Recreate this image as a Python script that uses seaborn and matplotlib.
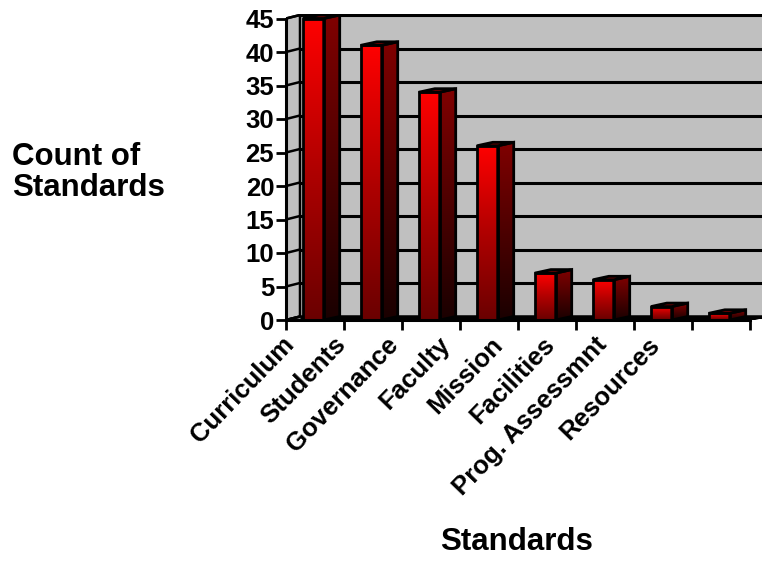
import numpy as np
import pandas as pd
import matplotlib
matplotlib.use("Agg")
import matplotlib.pyplot as plt
import seaborn as sns
from matplotlib.patches import Polygon
from matplotlib.colors import LinearSegmentedColormap

# ---- data ----
categories = ["Curriculum", "Students", "Governance", "Faculty", "Mission",
              "Facilities", "Prog. Assessmnt", "Resources"]
counts = [45, 41, 34, 26, 7, 6, 2, 1]
y_ticks = [0, 5, 10, 15, 20, 25, 30, 35, 40, 45]
y_title_lines = ["Count of", "Standards"]
x_title = "Standards"

sns.set_theme(style="white")
plt.rcParams['font.family'] = ['Liberation Sans', 'DejaVu Sans']
plt.rcParams['font.weight'] = 'bold'
plt.rcParams['text.color'] = 'black'
plt.rcParams['xtick.color'] = 'black'
plt.rcParams['ytick.color'] = 'black'
plt.rcParams['axes.labelcolor'] = 'black'

W, H = 762, 563
fig = plt.figure(figsize=(W / 100, H / 100), dpi=100)

# axes geometry in pixels
ax_left, ax_bottom_px, ax_top_px = 286, 320, 14
px_per_cat = 58.0
px_per_unit = 6.70
ax = fig.add_axes([ax_left / W, (H - ax_bottom_px) / H, (W - ax_left) / W,
                   (ax_bottom_px - ax_top_px) / H])
xmin = -0.5
xmax = -0.5 + (W - ax_left) / px_per_cat
ymax_axes = (ax_bottom_px - ax_top_px) / px_per_unit
DX = 14 / px_per_cat      # depth offset (categories)
DY = 3.5 / px_per_unit    # depth offset (values)
BDX = 16 / px_per_cat     # bar depth
ymax = max(y_ticks)
ncat = len(categories)

wall = "#C0C0C0"
# back wall
ax.add_patch(Polygon([(xmin + DX, DY), (xmax + 1, DY), (xmax + 1, ymax + DY),
                      (xmin + DX, ymax + DY)], closed=True, facecolor=wall,
                     edgecolor="none", zorder=0))
# left wall
ax.add_patch(Polygon([(xmin, 0), (xmin + DX, DY), (xmin + DX, ymax + DY), (xmin, ymax)],
                     closed=True, facecolor=wall, edgecolor="black", lw=1.8, zorder=0.5))
# floor
ax.add_patch(Polygon([(xmin, 0), (ncat - 0.5, 0), (ncat - 0.5 + DX, DY), (xmin + DX, DY)],
                     closed=True, facecolor=wall, edgecolor="black", lw=1.8, zorder=0.6))
# gridlines on back wall and left wall
for t in y_ticks:
    ax.plot([xmin + DX, xmax + 1], [t + DY, t + DY], color="black", lw=2.2, zorder=1,
            solid_capstyle="butt")
    ax.plot([xmin, xmin + DX], [t, t + DY], color="black", lw=1.8, zorder=1)

# ---- bars (front faces via seaborn) ----
df = pd.DataFrame({"Standard": categories, "Count": counts})
sns.barplot(data=df, x="Standard", y="Count", ax=ax, width=0.36, color="#FF0000",
            edgecolor="black", linewidth=2.0, zorder=3, errorbar=None)

front_cmap = LinearSegmentedColormap.from_list("front", ["#6A0000", "#B00000", "#FF0000"])
side_cmap = LinearSegmentedColormap.from_list("side", ["#1A0000", "#800000"])
grad = np.linspace(0, 1, 256).reshape(-1, 1)

bars = list(ax.patches)[-ncat:]
for p in bars:
    p.set_x(p.get_x() - 0.03)
    x0 = p.get_x()
    w = p.get_width()
    h = p.get_height()
    x1 = x0 + w
    # front gradient
    im = ax.imshow(grad, extent=[x0, x1, 0, h], origin="lower", cmap=front_cmap,
                   aspect="auto", zorder=3.1, interpolation="bilinear")
    im.set_clip_path(p)
    p.set_facecolor("none")
    p.set_zorder(4)
    # side face
    side = Polygon([(x1, 0), (x1 + BDX, DY), (x1 + BDX, h + DY), (x1, h)], closed=True,
                   facecolor="none", edgecolor="black", lw=2.0, zorder=4)
    ax.add_patch(side)
    ims = ax.imshow(grad, extent=[x1, x1 + BDX, 0, h + DY], origin="lower", cmap=side_cmap,
                    aspect="auto", zorder=3.1, interpolation="bilinear")
    ims.set_clip_path(side)
    # top face
    ax.add_patch(Polygon([(x0, h), (x1, h), (x1 + BDX, h + DY), (x0 + BDX, h + DY)],
                         closed=True, facecolor="#800000", edgecolor="black", lw=2.0,
                         zorder=4))

ax.set_xlim(xmin, xmax)
ax.set_ylim(0, ymax_axes)

# spines
for s in ["top", "right"]:
    ax.spines[s].set_visible(False)
ax.spines["left"].set_bounds(0, ymax)
ax.spines["bottom"].set_bounds(xmin, ncat - 0.5)
for s in ["left", "bottom"]:
    ax.spines[s].set_color("black")
    ax.spines[s].set_linewidth(2.2)
    ax.spines[s].set_zorder(5)

# y ticks
ax.set_yticks(y_ticks)
ax.set_yticklabels([str(t) for t in y_ticks], fontsize=18.5, fontweight="bold")
ax.tick_params(axis="y", direction="out", length=7, width=2, pad=1.5, colors="black",
               left=True)

# x ticks: marks at category boundaries, labels rotated
ax.set_xticks([i - 0.5 for i in range(ncat + 1)], minor=True)
ax.tick_params(axis="x", which="minor", direction="out", length=7, width=2,
               bottom=True, colors="black")
label_pos = [xmin + (4 + 52.2 * i) / px_per_cat for i in range(ncat)]
ax.set_xticks(label_pos)
ax.set_xticklabels(categories, rotation=46, ha="right", va="center",
                   rotation_mode="anchor", fontsize=18.5, fontweight="bold")
ax.tick_params(axis="x", which="major", length=0, pad=15, bottom=True, colors="black")
ax.set_xlabel("")
ax.set_ylabel("")
ax.set_facecolor("none")

# titles
fig.text(12 / W, 1 - 165 / H, y_title_lines[0], ha="left", va="baseline",
         fontsize=22.5, fontweight="bold", color="black")
fig.text(12 / W, 1 - 196 / H, y_title_lines[1], ha="left", va="baseline",
         fontsize=22.5, fontweight="bold", color="black")
fig.text(517 / W, 1 - 550 / H, x_title, ha="center", va="baseline",
         fontsize=22.5, fontweight="bold", color="black")

fig.savefig("out.png", dpi=100, facecolor="white")
